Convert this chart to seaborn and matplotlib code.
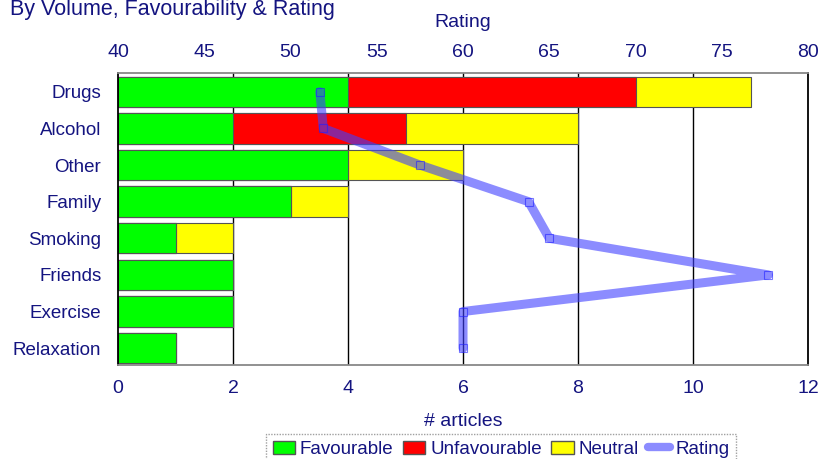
import matplotlib
matplotlib.use('Agg')
import matplotlib.pyplot as plt
from matplotlib.lines import Line2D
from matplotlib.patches import Patch
import numpy as np
import pandas as pd
import seaborn as sns

# data
topics = ['Drugs', 'Alcohol', 'Other', 'Family', 'Smoking', 'Friends', 'Exercise', 'Relaxation']
favourable = [4, 2, 4, 3, 1, 2, 2, 1]
unfavourable = [5, 3, 0, 0, 0, 0, 0, 0]
neutral = [2, 3, 2, 1, 1, 0, 0, 0]
rating = [51.7, 51.9, 57.5, 63.8, 65.0, 77.7, 60.0, 60.0]

article_ticks = [0, 2, 4, 6, 8, 10, 12]
rating_ticks = [40, 45, 50, 55, 60, 65, 70, 75, 80]

NAVY = '#141480'
GREEN = '#00ff00'
RED = '#ff0000'
YELLOW = '#ffff00'
LINE_BLUE = '#4040ff'

sns.set_style('white')
plt.rcParams['font.family'] = ['Liberation Sans', 'DejaVu Sans']

df = pd.DataFrame({
    'topic': topics,
    'fav': favourable,
    'unfav': unfavourable,
    'neut': neutral,
})
df['fav_unfav'] = df['fav'] + df['unfav']
df['total'] = df['fav_unfav'] + df['neut']

fig = plt.figure(figsize=(8.2, 4.59), dpi=100)
ax = fig.add_axes([0.1439, 0.2048, 0.8415, 0.6351])

# stacked bars: draw cumulative totals back to front
for col, colour in [('total', YELLOW), ('fav_unfav', RED), ('fav', GREEN)]:
    sns.barplot(data=df, x=col, y='topic', orient='h', color=colour,
                edgecolor='#555555', linewidth=0.8, width=0.83,
                saturation=1, ax=ax)

ax.set_xlim(0, 12)
ax.set_ylim(7.46, -0.5)
ax.set_xticks(article_ticks)
ax.set_ylabel('')
ax.set_xlabel('# articles', color=NAVY, fontsize=14, labelpad=11)
ax.tick_params(axis='x', length=0, pad=11, labelsize=14, labelcolor=NAVY)
ax.tick_params(axis='y', length=0, pad=12, labelsize=13.5, labelcolor=NAVY)
ax.grid(False)
for x in article_ticks[1:-1]:
    ax.axvline(x, color='black', lw=1, zorder=0)
ax.set_axisbelow(True)

for side in ['left', 'right']:
    ax.spines[side].set_color('black')
    ax.spines[side].set_linewidth(1.3)
for side in ['top', 'bottom']:
    ax.spines[side].set_color('#888888')
    ax.spines[side].set_linestyle((0, (1, 1)))
    ax.spines[side].set_linewidth(1.3)

# rating line on the top axis
ax2 = ax.twiny()
line_df = pd.DataFrame({'rating': rating, 'pos': np.arange(len(topics))})
sns.lineplot(data=line_df, x='rating', y='pos', sort=False, orient='y',
             color=LINE_BLUE, alpha=0.6, lw=6.5, marker='s', markersize=6,
             markerfacecolor='none', markeredgecolor='#2020ff',
             markeredgewidth=0.8, ax=ax2)
ax2.set_xlim(40, 80)
ax2.set_ylim(7.46, -0.5)
ax2.set_xticks(rating_ticks)
ax2.set_ylabel('')
ax2.set_xlabel('Rating', color=NAVY, fontsize=14, labelpad=12)
ax2.tick_params(axis='x', length=0, pad=9, labelsize=14, labelcolor=NAVY)
for s in ax2.spines.values():
    s.set_visible(False)

fig.text(0.012, 1 - 15 / 459, 'By Volume, Favourability & Rating', color=NAVY,
         fontsize=15.5, ha='left', va='baseline')

handles = [
    Patch(facecolor=GREEN, edgecolor='#555555', label='Favourable'),
    Patch(facecolor=RED, edgecolor='#555555', label='Unfavourable'),
    Patch(facecolor=YELLOW, edgecolor='#555555', label='Neutral'),
    Line2D([0], [0], color=LINE_BLUE, alpha=0.6, lw=6, label='Rating'),
]
leg = fig.legend(handles=handles, loc='upper center', bbox_to_anchor=(0.611, 1 - 434 / 459),
                 ncol=4, fontsize=13.5, frameon=True, fancybox=False,
                 handlelength=1.2, handleheight=0.7, handletextpad=0.25,
                 columnspacing=0.5, borderpad=0.35, borderaxespad=0)
leg.get_frame().set_edgecolor('#888888')
leg.get_frame().set_linestyle((0, (1, 1)))
for t in leg.get_texts():
    t.set_color(NAVY)

fig.savefig('out.png', dpi=100)
